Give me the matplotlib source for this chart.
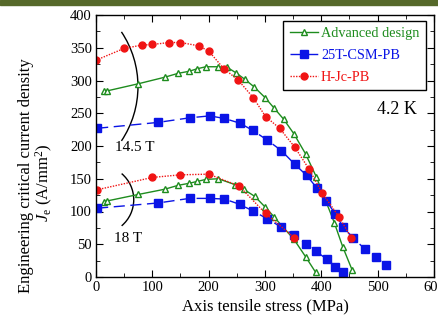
import matplotlib
matplotlib.use("Agg")
import matplotlib.pyplot as plt
from matplotlib.patches import Arc, Rectangle

plt.rcParams['font.family'] = ['Liberation Serif', 'DejaVu Serif']
plt.rcParams['mathtext.fontset'] = 'custom'
plt.rcParams['mathtext.rm'] = 'Liberation Serif'
plt.rcParams['mathtext.it'] = 'Liberation Serif:italic'

# 14.5 T data
green_145_x = [15, 19, 75, 122, 146, 165, 180, 195, 216, 233, 248, 264, 281, 300, 316, 333, 351, 372, 391, 423, 438, 455]
green_145_y = [284, 284, 295, 305, 311, 314, 318, 321, 321, 320, 312, 302, 290, 274, 258, 241, 219, 188, 153, 83, 46, 10]
blue_145_x = [2, 110, 166, 202, 228, 255, 278, 304, 329, 353, 374, 392, 409, 425, 439, 457, 477, 497, 515]
blue_145_y = [227, 236, 243, 246, 242, 235, 224, 209, 193, 172, 155, 136, 116, 96, 76, 59, 43, 30, 18]
red_145_x = [0, 50, 81, 100, 130, 150, 182, 200, 227, 252, 279, 301, 326, 353, 378, 401, 432, 453]
red_145_y = [331, 349, 354, 355, 358, 358, 353, 345, 318, 301, 274, 245, 227, 198, 165, 129, 91, 60]

# 18 T data
green_18_x = [15, 19, 75, 122, 146, 165, 180, 195, 217, 247, 262, 282, 300, 316, 331, 351, 372, 390]
green_18_y = [115, 116, 126, 134, 140, 143, 146, 149, 150, 141, 134, 123, 107, 92, 77, 58, 31, 7]
blue_18_x = [2, 110, 166, 202, 228, 255, 278, 304, 329, 352, 373, 391, 410, 425, 439]
blue_18_y = [105, 113, 120, 120, 119, 111, 101, 89, 76, 64, 50, 39, 27, 16, 7]
red_18_x = [1, 100, 150, 200, 254, 301, 352]
red_18_y = [133, 152, 156, 157, 139, 97, 60]

labels = ["Advanced design", "25T-CSM-PB", "H-Jc-PB"]
green = "#1e8c1e"
blue = "#0a14e6"
red = "#f01414"

fig = plt.figure(figsize=(4.39, 3.21), dpi=100)
fig.patches.append(Rectangle((0, 1 - 5/321), 1, 5/321, transform=fig.transFigure,
                             color="#56692a", zorder=0))
ax = fig.add_axes([96/439, 1 - 277/321, 338/439, 262/321])

gkw = dict(color=green, lw=1.0, marker="^", ms=4.5, mfc="white", mec=green, mew=1.0)
bkw = dict(color=blue, lw=1.0, dashes=(8, 4), marker="s", ms=5.5, mfc=blue, mec=blue)
rkw = dict(color=red, lw=1.0, ls=(0, (1, 1)), marker="o", ms=5, mfc=red, mec=red)

ax.plot(green_145_x, green_145_y, label=labels[0], **gkw)
ax.plot(blue_145_x, blue_145_y, label=labels[1], **bkw)
ax.plot(red_145_x, red_145_y, label=labels[2], **rkw)
ax.plot(green_18_x, green_18_y, **gkw)
ax.plot(blue_18_x, blue_18_y, **bkw)
ax.plot(red_18_x, red_18_y, **rkw)

ax.set_xlim(0, 600)
ax.set_ylim(0, 400)
ax.set_xticks(range(0, 601, 100))
ax.set_xticks(range(0, 601, 50), minor=True)
ax.set_yticks(range(0, 401, 50))
ax.set_yticks(range(0, 401, 25), minor=True)
ax.tick_params(which="both", direction="in", top=True, right=True, labelsize=10.5, pad=3)
ax.tick_params(which="major", length=5)
ax.tick_params(which="minor", length=3)
for s in ax.spines.values():
    s.set_linewidth(1.0)

# brackets
ax.add_patch(Arc((-99, 291), 347, 299, theta1=-30, theta2=30, color="black", lw=1.0))
ax.add_patch(Arc((7, 118), 120, 104, theta1=-46, theta2=46, color="black", lw=1.0))
ax.text(69, 198, "14.5 T", fontsize=11, ha="center", va="center")
ax.text(57, 59, "18 T", fontsize=11, ha="center", va="center")
ax.text(535, 256, "4.2 K", fontsize=13, ha="center", va="center")

leg = ax.legend(loc="upper right", bbox_to_anchor=(0.976, 0.977), borderaxespad=0,
                fontsize=10.3, labelcolor="linecolor", fancybox=False, framealpha=1,
                edgecolor="black", handlelength=2.0, handletextpad=0.2,
                borderpad=0.45, labelspacing=0.6)
leg.get_frame().set_linewidth(1.0)

fig.text(265/439, 1 - 306/321, "Axis tensile stress (MPa)", fontsize=12, ha="center", va="center")
fig.text(26/439, 1 - 176/321, "Engineering critical current density", fontsize=12,
         rotation=90, ha="center", va="center")
fig.text(44/439, 1 - 183/321, r"$J_\mathrm{e}$ (A/mm$^2$)", fontsize=12,
         rotation=90, ha="center", va="center")

fig.savefig("out.png", dpi=100)
